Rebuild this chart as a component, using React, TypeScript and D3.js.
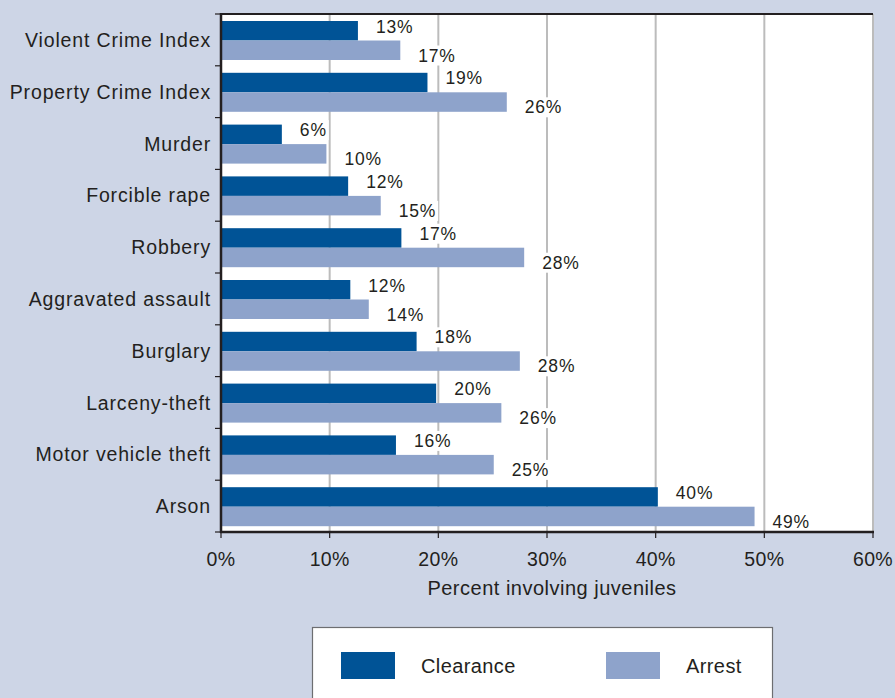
import React, { useEffect, useRef } from "react";
import * as d3 from "d3";

const categories = [
  "Violent Crime Index",
  "Property Crime Index",
  "Murder",
  "Forcible rape",
  "Robbery",
  "Aggravated assault",
  "Burglary",
  "Larceny-theft",
  "Motor vehicle theft",
  "Arson",
];
const clearance = [12.6, 19.0, 5.6, 11.7, 16.6, 11.9, 18.0, 19.8, 16.1, 40.2];
const arrest = [16.5, 26.3, 9.7, 14.7, 27.9, 13.6, 27.5, 25.8, 25.1, 49.1];
const clearanceLabels = ["13%", "19%", "6%", "12%", "17%", "12%", "18%", "20%", "16%", "40%"];
const arrestLabels = ["17%", "26%", "10%", "15%", "28%", "14%", "28%", "26%", "25%", "49%"];
const xTicks = [0, 10, 20, 30, 40, 50, 60];
const seriesNames = ["Clearance", "Arrest"];

const W = 895;
const H = 698;
const BG = "#cdd5e6";
const DARK = "#005396";
const LIGHT = "#8ea3cb";
const TEXT = "#231f20";
const FONT = "'Liberation Sans', Arial, Helvetica, sans-serif";

export default function App() {
  const ref = useRef<SVGSVGElement>(null);

  useEffect(() => {
    const svg = d3.select(ref.current);
    svg.selectAll("*").remove();

    const left = 221, right = 873, top = 14, bottom = 532;
    const x = d3.scaleLinear().domain([0, 60]).range([left, right]);
    const y = d3.scaleBand().domain(categories).range([top, bottom]).paddingInner(0).paddingOuter(0);
    const band = y.bandwidth();

    svg.append("rect").attr("x", 0).attr("y", 0).attr("width", W).attr("height", H).attr("fill", BG);
    svg.append("rect").attr("x", left).attr("y", top).attr("width", right - left).attr("height", bottom - top).attr("fill", "#fff");

    // gridlines
    svg.append("g").selectAll("line").data(xTicks.filter((d) => d > 0)).join("line")
      .attr("x1", (d) => x(d)).attr("x2", (d) => x(d))
      .attr("y1", top).attr("y2", bottom)
      .attr("stroke", "#bcbcbc").attr("stroke-width", 2);

    const barH = 19.5;
    const offTop = 7;

    const g = svg.append("g");
    categories.forEach((c, i) => {
      const y0 = (y(c) as number) + offTop;
      g.append("rect").attr("x", x(0)).attr("y", y0).attr("width", x(clearance[i]) - x(0)).attr("height", barH).attr("fill", DARK);
      g.append("rect").attr("x", x(0)).attr("y", y0 + barH).attr("width", x(arrest[i]) - x(0)).attr("height", barH).attr("fill", LIGHT);
    });

    // value labels with white backgrounds
    const lab = svg.append("g");
    const addLabel = (tx: number, ty: number, s: string) => {
      const grp = lab.append("g");
      const bg = grp.append("rect").attr("fill", "#fff");
      const t = grp.append("text").attr("x", tx).attr("y", ty).text(s)
        .attr("font-family", FONT).attr("font-size", 17.5).attr("letter-spacing", 0.8).attr("fill", TEXT);
      const bb = (t.node() as SVGTextElement).getBBox();
      bg.attr("x", bb.x - 2).attr("y", bb.y).attr("width", bb.width + 4).attr("height", bb.height);
    };
    categories.forEach((c, i) => {
      const y0 = (y(c) as number) + offTop;
      addLabel(x(clearance[i]) + 18, y0 + 11.5, clearanceLabels[i]);
      addLabel(x(arrest[i]) + 18, y0 + 2 * barH + 1.5, arrestLabels[i]);
    });

    // top border
    svg.append("line").attr("x1", left).attr("x2", right).attr("y1", top).attr("y2", top).attr("stroke", "#231f20").attr("stroke-width", 2);

    // left axis
    const ax = svg.append("g");
    ax.append("line").attr("x1", left).attr("x2", left).attr("y1", top - 1).attr("y2", bottom + 1).attr("stroke", "#231f20").attr("stroke-width", 2.5);
    const bounds = d3.range(categories.length + 1).map((k) => top + k * band);
    ax.selectAll("line.tk").data(bounds).join("line").attr("class", "tk")
      .attr("x1", left - 6).attr("x2", left).attr("y1", (d) => d).attr("y2", (d) => d)
      .attr("stroke", "#231f20").attr("stroke-width", 1.2);
    ax.selectAll("text").data(categories).join("text")
      .attr("x", 211).attr("y", (d) => (y(d) as number) + band / 2 + 7)
      .attr("text-anchor", "end").attr("font-family", FONT).attr("font-size", 19.5).attr("letter-spacing", 0.85)
      .attr("fill", TEXT).text((d) => d);

    // bottom axis
    const bx = svg.append("g");
    bx.append("line").attr("x1", left - 1).attr("x2", right + 1).attr("y1", bottom).attr("y2", bottom).attr("stroke", "#231f20").attr("stroke-width", 2.5);
    bx.selectAll("line.tk").data(xTicks).join("line").attr("class", "tk")
      .attr("x1", (d) => x(d)).attr("x2", (d) => x(d)).attr("y1", bottom).attr("y2", bottom + 6)
      .attr("stroke", "#231f20").attr("stroke-width", 1.2);
    bx.selectAll("text").data(xTicks).join("text")
      .attr("x", (d) => x(d)).attr("y", 566).attr("text-anchor", "middle")
      .attr("font-family", FONT).attr("font-size", 19.5).attr("letter-spacing", 0.3).attr("fill", TEXT)
      .text((d) => `${d}%`);
    bx.append("text").attr("x", (left + right) / 2 + 5).attr("y", 595).attr("text-anchor", "middle")
      .attr("font-family", FONT).attr("font-size", 20).attr("letter-spacing", 0.5).attr("fill", TEXT)
      .text("Percent involving juveniles");

    // legend
    const lg = svg.append("g");
    lg.append("rect").attr("x", 312.5).attr("y", 627.5).attr("width", 460).attr("height", 90)
      .attr("fill", "#fff").attr("stroke", "#6d6e71").attr("stroke-width", 1.2);
    const legendX = [341, 606];
    const colors = [DARK, LIGHT];
    seriesNames.forEach((s, i) => {
      lg.append("rect").attr("x", legendX[i]).attr("y", 652).attr("width", 54).attr("height", 27).attr("fill", colors[i]);
      lg.append("text").attr("x", legendX[i] + 80).attr("y", 673)
        .attr("font-family", FONT).attr("font-size", 20).attr("letter-spacing", 0.4).attr("fill", TEXT).text(s);
    });
  }, []);

  return (
    <svg ref={ref} width={W} height={H} style={{ position: "absolute", left: 0, top: 0, display: "block" }} />
  );
}
